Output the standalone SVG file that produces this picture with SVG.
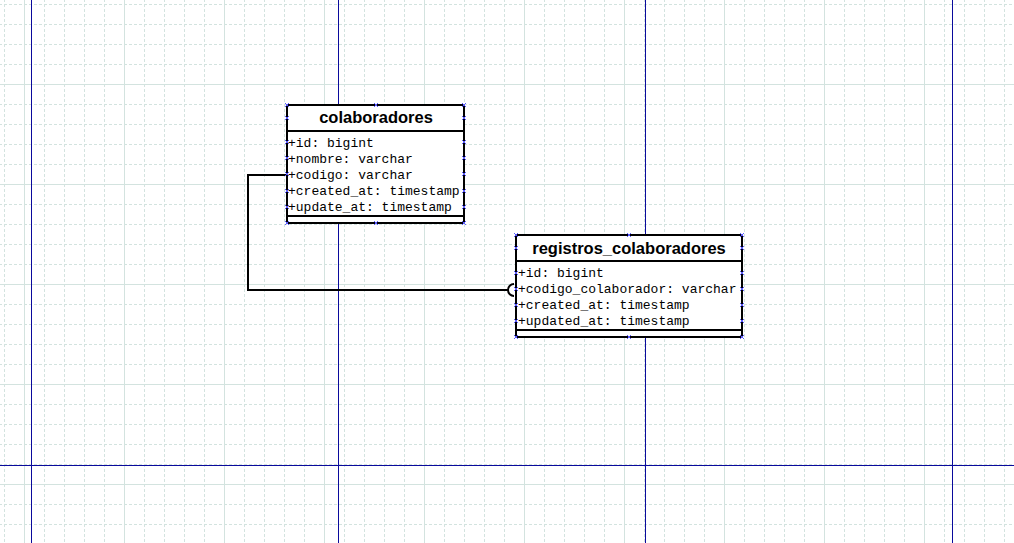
<svg xmlns="http://www.w3.org/2000/svg" width="1014" height="543" viewBox="0 0 1014 543">
<style>
.minor{stroke:#d3e3df;stroke-width:1;stroke-dasharray:3 2;fill:none}
.major{stroke:#d3e3df;stroke-width:1;fill:none}
.page{stroke:#0a0a9c;stroke-width:1;fill:none}
.box{fill:#ffffff;stroke:#000000;stroke-width:2}
.sep{stroke:#000000;stroke-width:2;fill:none}
.title{font-family:"Liberation Sans",Arial,sans-serif;font-weight:bold;font-size:16.5px;fill:#000000;text-anchor:middle}
.attr{font-family:"Liberation Mono","Courier New",monospace;font-size:13px;fill:#000000}
.cp{stroke:#5a5aff;stroke-width:1;fill:none}
.conn{stroke:#000000;stroke-width:2;fill:none}
</style>
<defs>
<pattern id="grid" width="100" height="100" patternUnits="userSpaceOnUse" x="24" y="84">
<path class="minor" d="M20.5,0V100M40.5,0V100M60.5,0V100M80.5,0V100M0,20.5H100M0,40.5H100M0,60.5H100M0,80.5H100"/>
<path class="major" d="M0.5,0V100M0,0.5H100"/>
</pattern>
</defs>
<rect width="1014" height="543" fill="#ffffff"/>
<rect width="1014" height="543" fill="url(#grid)"/>
<g id="pages">
<path class="page" d="M31.5,0V543M338.5,0V543M645.5,0V543M952.5,0V543M0,465.5H1014"/>
</g>
<g id="connectors">
<path class="conn" d="M287,175H248V290H508"/>
<path class="conn" d="M514,284A6,6 0 0 0 514,296"/>
</g>
<g id="colaboradores">
<rect class="box" x="287" y="105" width="177" height="118"/>
<path class="sep" d="M287,131H464M287,216H464"/>
<text class="title" x="376" y="123">colaboradores</text>
<text class="attr" x="288" y="147">+id: bigint</text>
<text class="attr" x="288" y="163">+nombre: varchar</text>
<text class="attr" x="288" y="179">+codigo: varchar</text>
<text class="attr" x="288" y="195">+created_at: timestamp</text>
<text class="attr" x="288" y="211">+update_at: timestamp</text>
<path class="cp" d="M285,103l4,4m0,-4l-4,4M462,103l4,4m0,-4l-4,4M374,103l4,4m0,-4l-4,4M285,221l4,4m0,-4l-4,4M462,221l4,4m0,-4l-4,4M374,221l4,4m0,-4l-4,4M285,116l4,4m0,-4l-4,4M462,116l4,4m0,-4l-4,4M285,140l4,4m0,-4l-4,4M462,140l4,4m0,-4l-4,4M285,156l4,4m0,-4l-4,4M462,156l4,4m0,-4l-4,4M285,172l4,4m0,-4l-4,4M462,172l4,4m0,-4l-4,4M285,189l4,4m0,-4l-4,4M462,189l4,4m0,-4l-4,4M285,205l4,4m0,-4l-4,4M462,205l4,4m0,-4l-4,4"/>
</g>
<g id="registros_colaboradores">
<rect class="box" x="516" y="235" width="226" height="102"/>
<path class="sep" d="M516,261H742M516,330H742"/>
<text class="title" x="629" y="254">registros_colaboradores</text>
<text class="attr" x="518" y="277">+id: bigint</text>
<text class="attr" x="518" y="293">+codigo_colaborador: varchar</text>
<text class="attr" x="518" y="309">+created_at: timestamp</text>
<text class="attr" x="518" y="325">+updated_at: timestamp</text>
<path class="cp" d="M514,233l4,4m0,-4l-4,4M740,233l4,4m0,-4l-4,4M627,233l4,4m0,-4l-4,4M514,335l4,4m0,-4l-4,4M740,335l4,4m0,-4l-4,4M627,335l4,4m0,-4l-4,4M514,246l4,4m0,-4l-4,4M740,246l4,4m0,-4l-4,4M514,271l4,4m0,-4l-4,4M740,271l4,4m0,-4l-4,4M514,287l4,4m0,-4l-4,4M740,287l4,4m0,-4l-4,4M514,303l4,4m0,-4l-4,4M740,303l4,4m0,-4l-4,4M514,319l4,4m0,-4l-4,4M740,319l4,4m0,-4l-4,4"/>
</g>
</svg>
